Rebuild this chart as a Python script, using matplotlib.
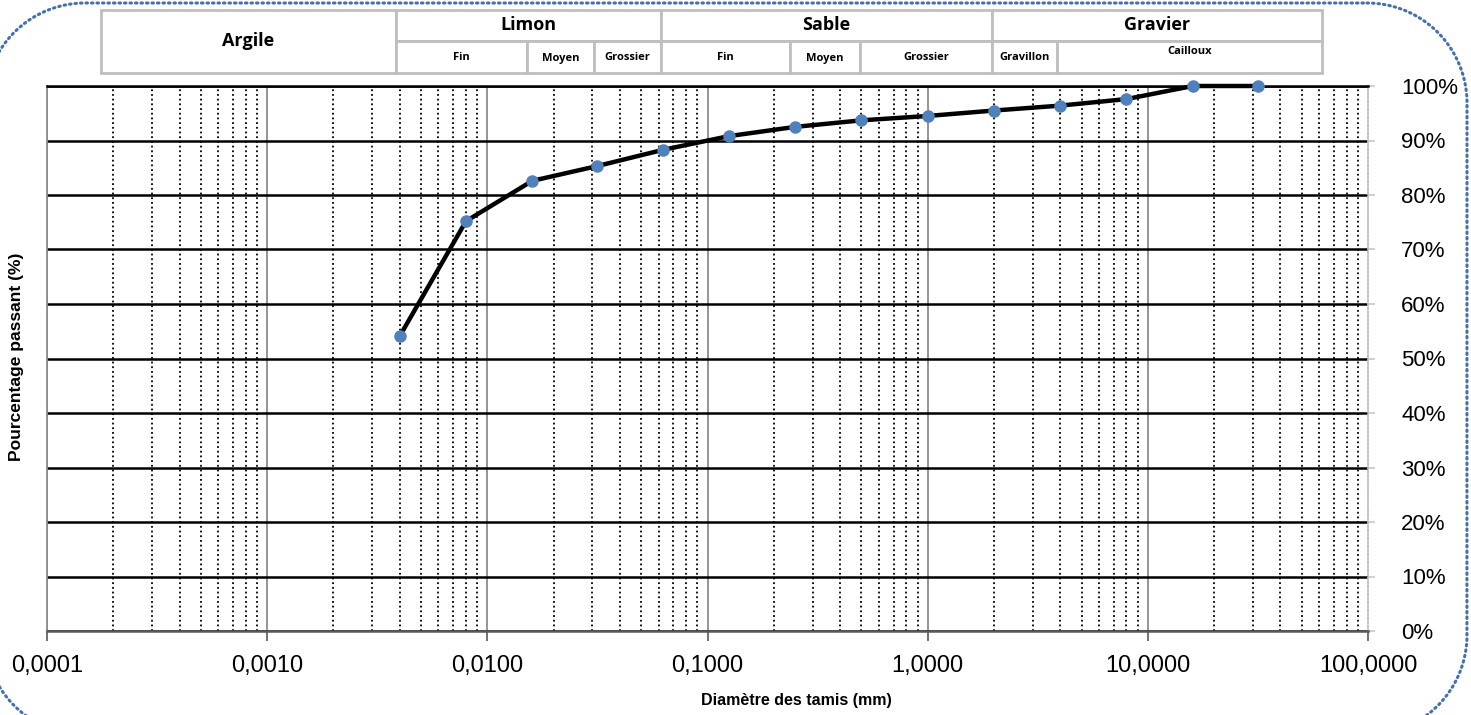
import numpy as np
import matplotlib
matplotlib.use("Agg")
import matplotlib.pyplot as plt
from matplotlib.patches import Rectangle
from matplotlib.ticker import FuncFormatter, PercentFormatter, LogLocator

# sieve analysis data
diametres = [0.004, 0.008, 0.016, 0.0315, 0.063, 0.125, 0.25, 0.5, 1.0, 2.0, 4.0, 8.0, 16.0, 31.5]
passant = [54.1, 75.2, 82.6, 85.3, 88.3, 90.8, 92.5, 93.7, 94.5, 95.5, 96.4, 97.6, 100.0, 100.0]

# classification header (name, sub-classes)
classes = ["Argile", "Limon", "Sable", "Gravier"]
sous_classes = {
    "Limon": ["Fin", "Moyen", "Grossier"],
    "Sable": ["Fin", "Moyen", "Grossier"],
    "Gravier": ["Gravillon", "Cailloux"],
}

W, H = 1471, 715
fig = plt.figure(figsize=(W / 100, H / 100), dpi=100)
ax = fig.add_axes([47 / W, (H - 631) / H, 1321 / W, 545 / H])

ax.plot(diametres, np.array(passant) / 100, color="black", lw=3.2, zorder=4,
        marker="o", ms=8, mfc="#4F81BD", mec="#4F81BD", clip_on=False)

ax.set_xscale("log")
ax.set_xlim(1e-4, 100)
ax.set_ylim(0, 1)
ax.xaxis.set_major_locator(LogLocator(base=10, numticks=10))
ax.xaxis.set_minor_locator(LogLocator(base=10, subs=np.arange(2, 10), numticks=20))
ax.xaxis.set_major_formatter(FuncFormatter(lambda v, p: f"{v:.4f}".replace(".", ",")))
ax.xaxis.set_minor_formatter(FuncFormatter(lambda v, p: ""))
ax.set_yticks(np.arange(0, 1.01, 0.1))
ax.yaxis.set_major_formatter(PercentFormatter(1.0, decimals=0))

# decade lines in grey (not on the right edge), sub-decades dotted black
for dec in [1e-4, 1e-3, 1e-2, 1e-1, 1, 10]:
    ax.axvline(dec, color="#8c8c8c", lw=1.3, zorder=0.5)
ax.grid(which="minor", axis="x", color="black", lw=1.3, ls=(0, (1, 1.6)))
ax.grid(which="major", axis="y", color="black", lw=1.8)
ax.set_axisbelow(True)

ax.yaxis.tick_right()
ax.tick_params(axis="y", which="major", length=5, width=1.2, color="#c8c8c8", pad=19,
               labelsize=16, labelcolor="black")
ax.tick_params(axis="x", which="major", length=7, width=1.2, color="#595959",
               pad=10, labelsize=17)
ax.tick_params(axis="x", which="minor", length=0)
for lab in ax.get_xticklabels() + ax.get_yticklabels():
    lab.set_fontfamily("Liberation Sans")

ax.spines["top"].set_color("black")
ax.spines["top"].set_linewidth(1.8)
ax.spines["bottom"].set_color("#595959")
ax.spines["bottom"].set_linewidth(1.8)
ax.spines["left"].set_color("#8c8c8c")
ax.spines["left"].set_linewidth(1.3)
ax.spines["right"].set_color("#bdbdbd")
ax.spines["right"].set_linewidth(1.3)
ax.spines["right"].set_linestyle((0, (1, 1.2)))

fig.text(796 / W, 1 - 701 / H, "Diamètre des tamis (mm)", fontsize=11.5,
         fontweight="bold", family="Liberation Sans", ha="center", va="center")
fig.text(17 / W, 1 - 357 / H, "Pourcentage passant (%)", rotation=90, fontsize=12.5,
         fontweight="bold", family="Liberation Sans", ha="center", va="center")

# overlay in pixel coordinates for the header table and the border
ov = fig.add_axes([0, 0, 1, 1])
ov.set_xlim(0, W)
ov.set_ylim(H, 0)
ov.axis("off")
ov.patch.set_alpha(0)

top, mid, bot = 10, 41, 73
bords = {"Argile": (101, 396), "Limon": (396, 661), "Sable": (661, 992), "Gravier": (992, 1322)}
coupes = {"Limon": [396, 527, 594, 661], "Sable": [661, 790, 860, 992], "Gravier": [992, 1057, 1322]}
gris = "#BFBFBF"
for nom in classes:
    x0, x1 = bords[nom]
    if nom not in sous_classes:
        ov.add_patch(Rectangle((x0, top), x1 - x0, bot - top, fc="white", ec=gris, lw=2))
        ov.text((x0 + x1) / 2, (top + bot) / 2, nom, ha="center", va="center",
                fontsize=13, fontweight="bold", family="Open Sans")
        continue
    ov.add_patch(Rectangle((x0, top), x1 - x0, mid - top, fc="white", ec=gris, lw=2))
    ov.text((x0 + x1) / 2, (top + mid) / 2, nom, ha="center", va="center",
            fontsize=13, fontweight="bold", family="Open Sans")
    xs = coupes[nom]
    for sub, a, b in zip(sous_classes[nom], xs[:-1], xs[1:]):
        ov.add_patch(Rectangle((a, mid), b - a, bot - mid, fc="white", ec=gris, lw=2))
        yy = (mid + bot) / 2 + 1 - (6 if sub == "Cailloux" else 0)
        ov.text((a + b) / 2, yy, sub, ha="center", va="center",
                fontsize=8, fontweight="bold", family="Open Sans")


# rounded dotted chart border (mostly outside the canvas on the left/bottom)
def bord_arrondi(L, T, R, B, r, n=40):
    xs, ys = [], []
    for cx, cy, a0 in [(R - r, T + r, -90), (R - r, B - r, 0), (L + r, B - r, 90), (L + r, T + r, 180)]:
        a = np.radians(np.linspace(a0, a0 + 90, n))
        xs.extend(cx + r * np.cos(a))
        ys.extend(cy + r * np.sin(a))
    xs.append(xs[0])
    ys.append(ys[0])
    return xs, ys


bx, by = bord_arrondi(-15, 3, 1467, 735, 100)
ov.plot(bx, by, color="#4470B0", lw=2.2, ls=(0, (0.5, 1.3)), dash_capstyle="round")

fig.savefig("out.png", dpi=100)
